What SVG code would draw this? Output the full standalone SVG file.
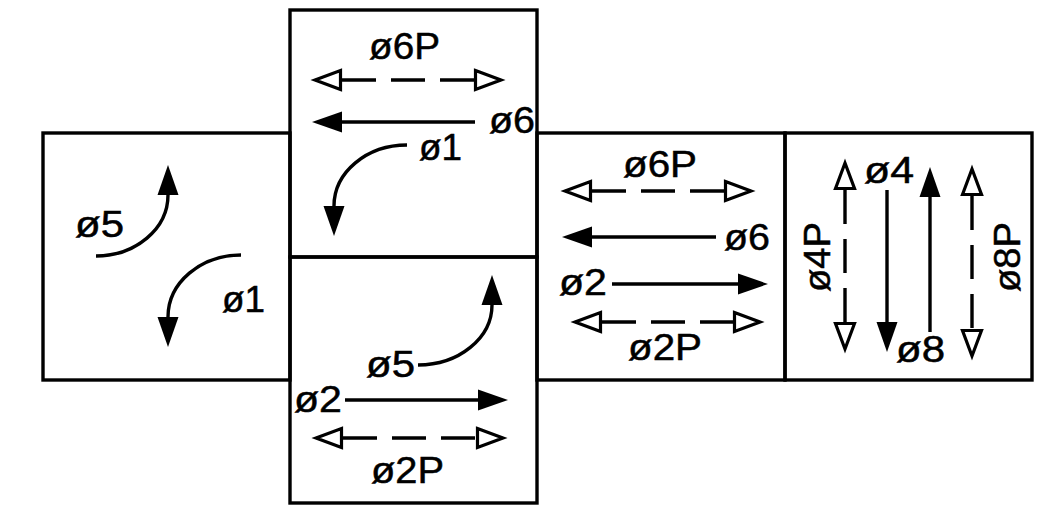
<svg xmlns="http://www.w3.org/2000/svg" width="1043" height="513" viewBox="0 0 1043 513">
<style>
.box{fill:none;stroke:#000;stroke-width:3.4}
.ln{fill:none;stroke:#000;stroke-width:3.4}
.sol{marker-end:url(#fh)}
.dsh{stroke-dasharray:34 15;marker-start:url(#hh);marker-end:url(#hh)}
.t{font-family:"Liberation Sans",Arial,sans-serif;font-size:37px;fill:#000;stroke:#000;stroke-width:0.5}
</style>
<defs>
<marker id="fh" markerUnits="userSpaceOnUse" orient="auto" refX="0" refY="0" markerWidth="40" markerHeight="30" viewBox="-2 -15 40 30" overflow="visible">
<path d="M0,-10.5 L30,0 L0,10.5 Z" fill="#000"/>
</marker>
<marker id="hh" markerUnits="userSpaceOnUse" orient="auto-start-reverse" refX="0" refY="0" markerWidth="40" markerHeight="30" viewBox="-2 -15 40 30" overflow="visible">
<path d="M1.5,-9.5 L27,0 L1.5,9.5 Z" fill="#fff" stroke="#000" stroke-width="3.2"/>
</marker>
</defs>
<rect width="1043" height="513" fill="#fff"/>
<g id="left">
<rect class="box" x="43" y="133" width="247" height="247"/>
<path class="ln sol" d="M96,256 A72,61 0 0 0 168,195"/>
<path class="ln sol" d="M241,255 A73,62 0 0 0 168,317"/>
<text class="t" x="75" y="237" textLength="49" lengthAdjust="spacingAndGlyphs">ø5</text>
<text class="t" x="222" y="312" textLength="43" lengthAdjust="spacingAndGlyphs">ø1</text>
</g>
<g id="top">
<rect class="box" x="290" y="10" width="247" height="247"/>
<line class="ln dsh" x1="342" y1="80" x2="474" y2="80"/>
<line class="ln sol" x1="475" y1="122" x2="342" y2="122"/>
<path class="ln sol" d="M407,145 A73,61 0 0 0 334,206"/>
<text class="t" x="369" y="59" textLength="71" lengthAdjust="spacingAndGlyphs">ø6P</text>
<text class="t" x="489" y="133" textLength="46" lengthAdjust="spacingAndGlyphs">ø6</text>
<text class="t" x="419" y="160" textLength="43" lengthAdjust="spacingAndGlyphs">ø1</text>
</g>
<g id="bottom">
<rect class="box" x="290" y="257" width="247" height="246"/>
<path class="ln sol" d="M418,365 A74,60 0 0 0 492,305"/>
<line class="ln sol" x1="345" y1="400" x2="478" y2="400"/>
<line class="ln dsh" x1="343" y1="438" x2="476" y2="438"/>
<text class="t" x="366" y="377" textLength="49" lengthAdjust="spacingAndGlyphs">ø5</text>
<text class="t" x="294" y="412" textLength="48" lengthAdjust="spacingAndGlyphs">ø2</text>
<text class="t" x="371" y="483" textLength="73" lengthAdjust="spacingAndGlyphs">ø2P</text>
</g>
<g id="ew">
<rect class="box" x="537" y="133" width="248" height="247"/>
<line class="ln dsh" x1="592" y1="191" x2="724" y2="191"/>
<line class="ln sol" x1="716" y1="237" x2="592" y2="237"/>
<line class="ln sol" x1="612" y1="284" x2="738" y2="284"/>
<line class="ln dsh" x1="602" y1="322" x2="733" y2="322"/>
<text class="t" x="623" y="177" textLength="74" lengthAdjust="spacingAndGlyphs">ø6P</text>
<text class="t" x="724" y="250" textLength="46" lengthAdjust="spacingAndGlyphs">ø6</text>
<text class="t" x="559" y="295" textLength="48" lengthAdjust="spacingAndGlyphs">ø2</text>
<text class="t" x="628" y="360" textLength="74" lengthAdjust="spacingAndGlyphs">ø2P</text>
</g>
<g id="ns">
<rect class="box" x="785" y="133" width="247" height="247"/>
<line class="ln dsh" x1="845" y1="190" x2="845" y2="322"/>
<line class="ln sol" x1="887" y1="190" x2="887" y2="322"/>
<line class="ln sol" x1="930" y1="332" x2="930" y2="197"/>
<line class="ln dsh" x1="972" y1="196" x2="972" y2="329"/>
<text class="t" x="864" y="183" textLength="50" lengthAdjust="spacingAndGlyphs">ø4</text>
<text class="t" x="896" y="362" textLength="49" lengthAdjust="spacingAndGlyphs">ø8</text>
<text class="t" x="795" y="257" textLength="70" lengthAdjust="spacingAndGlyphs" transform="rotate(-90 830 257)">ø4P</text>
<text class="t" x="985" y="257" textLength="70" lengthAdjust="spacingAndGlyphs" transform="rotate(-90 1020 257)">ø8P</text>
</g>
</svg>
